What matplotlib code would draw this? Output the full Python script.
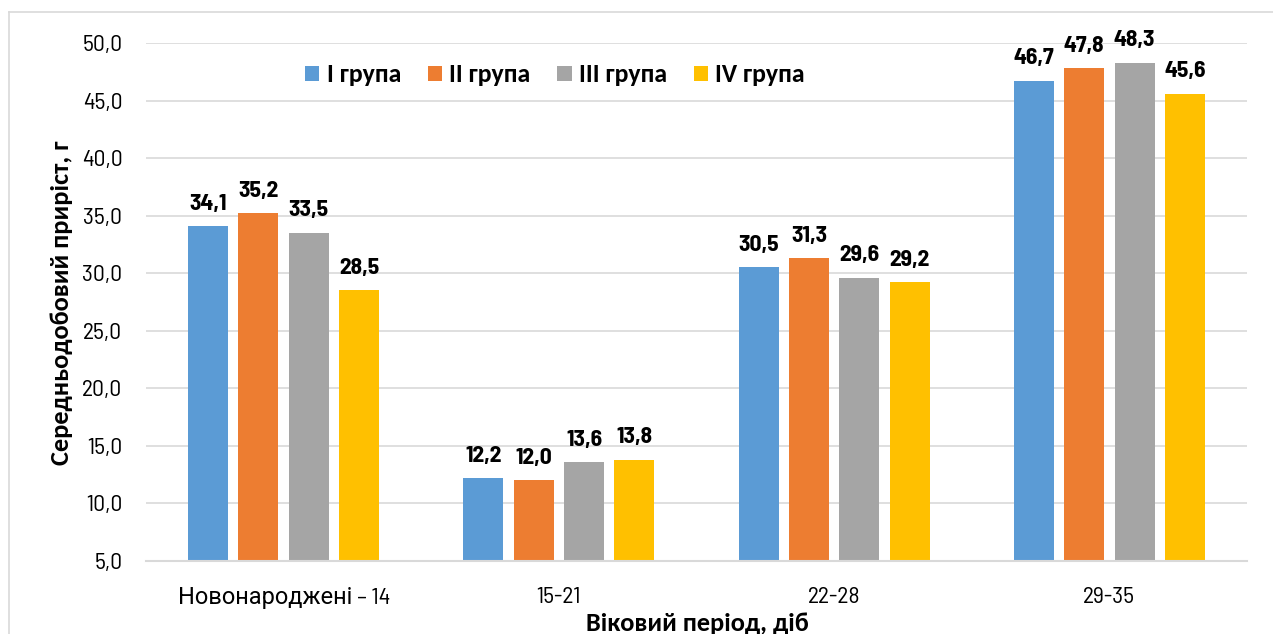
import matplotlib
matplotlib.use("Agg")
import matplotlib.pyplot as plt
from matplotlib.lines import Line2D
import numpy as np

categories = ["Новонароджені – 14", "15-21", "22-28", "29-35"]
series_names = ["I група", "II група", "III група", "IV група"]
group_1 = [34.1, 12.2, 30.5, 46.7]
group_2 = [35.2, 12.0, 31.3, 47.8]
group_3 = [33.5, 13.6, 29.6, 48.3]
group_4 = [28.5, 13.8, 29.2, 45.6]
colors = ["#5B9BD5", "#ED7D31", "#A5A5A5", "#FFC000"]
yticks = [5, 10, 15, 20, 25, 30, 35, 40, 45, 50]

narrow = ["Barlow Semi Condensed", "Roboto Condensed", "DejaVu Sans"]
xlab_font = ["Barlow Semi Condensed", "Roboto", "DejaVu Sans"]
bold_font = ["Carlito", "Liberation Sans", "DejaVu Sans"]

W, H = 1273, 634
fig = plt.figure(figsize=(W / 100, H / 100), dpi=100)
ax = fig.add_axes([146 / W, 1 - 561 / H, (1247 - 146) / W, (561 - 43) / H])

# outer chart border (only left & top visible)
fig.add_artist(Line2D([9 / W, 9 / W], [0, 1 - 12 / H], color="#d9d9d9", lw=1.2, transform=fig.transFigure))
fig.add_artist(Line2D([9 / W, 1], [1 - 12 / H, 1 - 12 / H], color="#d9d9d9", lw=1.2, transform=fig.transFigure))

x = np.arange(len(categories))
step = 0.183
width = 0.145
all_series = [group_1, group_2, group_3, group_4]
for i, vals in enumerate(all_series):
    pos = x + (i - 1.5) * step
    bars = ax.bar(pos, vals, width, color=colors[i], label=series_names[i], zorder=3)
    for b, v in zip(bars, vals):
        ax.annotate(("%.1f" % v).replace(".", ","), (b.get_x() + b.get_width() / 2, v),
                    xytext=(0, 9), textcoords="offset points", ha="center", va="bottom",
                    fontsize=17, fontweight="bold", family=narrow)

ax.set_ylim(5, 50)
ax.set_xlim(-0.5, 3.5)
ax.set_yticks(yticks)
ax.set_yticklabels([("%.1f" % t).replace(".", ",") for t in yticks], family=narrow, fontsize=17)
ax.set_xticks(x)
ax.set_xticklabels(categories, family=xlab_font, fontsize=17)
ax.tick_params(axis="both", length=0)
ax.tick_params(axis="y", pad=17)
ax.tick_params(axis="x", pad=19)
ax.yaxis.grid(True, color="#d9d9d9", lw=1.2, zorder=0)
for s in ["top", "right", "left"]:
    ax.spines[s].set_visible(False)
ax.spines["bottom"].set_color("#d9d9d9")
ax.spines["bottom"].set_linewidth(1.5)
ax.spines["bottom"].set_zorder(4)

fig.text(62 / W, 1 - 303 / H, "Середньодобовий приріст, г", rotation=90, ha="center", va="center",
         fontsize=19, fontweight="bold", family=bold_font)
fig.text(697 / W, 1 - 631 / H, "Віковий період, діб", ha="center", va="baseline",
         fontsize=19, fontweight="bold", family=bold_font)

leg = ax.legend(loc="center", bbox_to_anchor=(555 / W, 1 - 75 / H), bbox_transform=fig.transFigure,
                ncol=4, frameon=False, handlelength=0.55, handleheight=0.55, handletextpad=0.28,
                columnspacing=1.05, prop={"family": bold_font, "weight": "bold", "size": 18.5})

fig.savefig("out.png", dpi=100)
